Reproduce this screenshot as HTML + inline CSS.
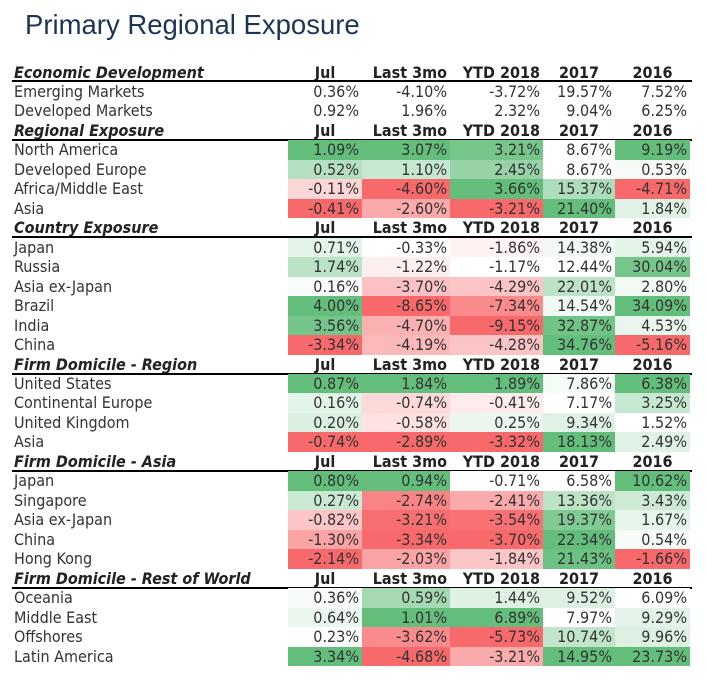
<!DOCTYPE html>
<html><head><meta charset="utf-8">
<style>
body{margin:0;width:707px;height:683px;background:#fff;position:relative;overflow:hidden;font-family:"DejaVu Sans Condensed","DejaVu Sans","Liberation Sans",sans-serif;}
#title{position:absolute;left:25px;top:9px;font-family:"Liberation Sans",sans-serif;font-size:27.5px;color:#1c3557;white-space:nowrap;}
.c{position:absolute;height:19.5px;line-height:19.5px;font-size:16px;color:#333;white-space:nowrap;box-sizing:border-box;}
.lab{padding-left:2px;}
.num{text-align:right;padding-right:3px;}
.hd{font-weight:bold;color:#222;}
.sec{font-weight:bold;font-style:italic;color:#222;}
.rule{position:absolute;left:12px;width:680px;height:2px;background:#000;}
</style></head>
<body>
<div id="title">Primary Regional Exposure</div>
<div id="tbl"></div>
<script>
const columns = ["Jul","Last 3mo","YTD 2018","2017","2016"];
const sectionNames = ["Economic Development","Regional Exposure","Country Exposure","Firm Domicile - Region","Firm Domicile - Asia","Firm Domicile - Rest of World"];
const rowLabels = [
 ["Emerging Markets","Developed Markets"],
 ["North America","Developed Europe","Africa/Middle East","Asia"],
 ["Japan","Russia","Asia ex-Japan","Brazil","India","China"],
 ["United States","Continental Europe","United Kingdom","Asia"],
 ["Japan","Singapore","Asia ex-Japan","China","Hong Kong"],
 ["Oceania","Middle East","Offshores","Latin America"]
];
const values = [
 [[0.36,-4.10,-3.72,19.57,7.52],[0.92,1.96,2.32,9.04,6.25]],
 [[1.09,3.07,3.21,8.67,9.19],[0.52,1.10,2.45,8.67,0.53],[-0.11,-4.60,3.66,15.37,-4.71],[-0.41,-2.60,-3.21,21.40,1.84]],
 [[0.71,-0.33,-1.86,14.38,5.94],[1.74,-1.22,-1.17,12.44,30.04],[0.16,-3.70,-4.29,22.01,2.80],[4.00,-8.65,-7.34,14.54,34.09],[3.56,-4.70,-9.15,32.87,4.53],[-3.34,-4.19,-4.28,34.76,-5.16]],
 [[0.87,1.84,1.89,7.86,6.38],[0.16,-0.74,-0.41,7.17,3.25],[0.20,-0.58,0.25,9.34,1.52],[-0.74,-2.89,-3.32,18.13,2.49]],
 [[0.80,0.94,-0.71,6.58,10.62],[0.27,-2.74,-2.41,13.36,3.43],[-0.82,-3.21,-3.54,19.37,1.67],[-1.30,-3.34,-3.70,22.34,0.54],[-2.14,-2.03,-1.84,21.43,-1.66]],
 [[0.36,0.59,1.44,9.52,6.09],[0.64,1.01,6.89,7.97,9.29],[0.23,-3.62,-5.73,10.74,9.96],[3.34,-4.68,-3.21,14.95,23.73]]
];
const colored = [false,true,true,true,true,true];
const colEdges=[12,288,362,450,543,615,690];
const rowH=19.47, top0=62.5;
const G=[99,190,123], R=[248,105,107];
function mix(c,t){t=Math.max(0,Math.min(1,t));return 'rgb('+c.map(v=>Math.round(255+(v-255)*t)).join(',')+')';}
function colorFor(v,vals){
  const mn=Math.min(...vals), mx=Math.max(...vals);
  let base = mn>=0 ? mn : (mx<=0 ? mx : 0);
  if(v>base) return mix(G,(v-base)/(mx-base||1));
  if(v<base) return mix(R,(v-base)/(mn-base||1));
  return '#fff';
}
const tbl=document.getElementById('tbl');
function cell(cls,x,y,w,txt,bg){
  const d=document.createElement('div');
  d.className='c '+cls;
  d.style.left=x+'px';d.style.top=y+'px';d.style.width=w+'px';
  if(bg)d.style.background=bg;
  d.textContent=txt;
  tbl.appendChild(d);return d;
}
let r=0;
sectionNames.forEach((s,si)=>{
  const y=top0+r*rowH;
  const h=cell('sec lab',colEdges[0],y,colEdges[1]-colEdges[0],s);
  
  
  columns.forEach((c,ci)=>{
    const d=cell('hd num',colEdges[ci+1],y,colEdges[ci+2]-colEdges[ci+1],c);
    if(ci===0||ci===3||ci===4){d.style.textAlign='center';d.style.paddingRight='0';}
    
    
  });
  const ln=document.createElement('div');ln.className='rule';ln.style.top=(y+rowH-1.5)+'px';
  
  
  tbl.appendChild(ln);
  r++;
  rowLabels[si].forEach((lab,ri)=>{
    const y2=top0+r*rowH;
    const l=cell('lab',colEdges[0],y2,colEdges[1]-colEdges[0],lab);
    
    
    values[si][ri].forEach((v,ci)=>{
      const colVals=values[si].map(rr=>rr[ci]);
      const bg=colored[si]?colorFor(v,colVals):null;
      const d=cell('num',colEdges[ci+1],y2,colEdges[ci+2]-colEdges[ci+1],v.toFixed(2)+'%',bg);
      
      
    });
    r++;
  });
});
</script>
</body></html>
